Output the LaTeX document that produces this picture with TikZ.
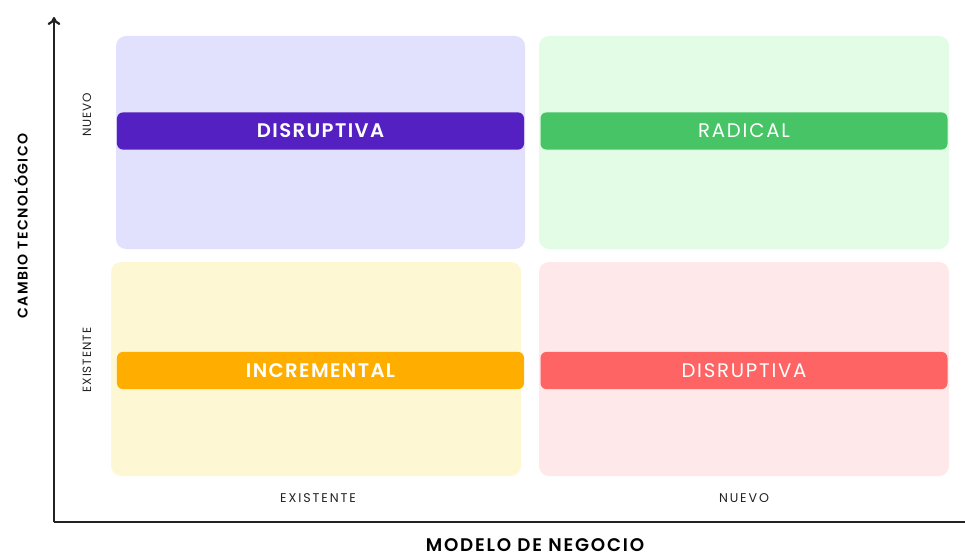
\documentclass[tikz,border=0pt]{standalone}
\usepackage{fontspec}
\usetikzlibrary{arrows.meta}
\setmainfont{Poppins}
\newfontfamily\barrafont[LetterSpace=9]{Poppins}
\newfontfamily\barrasemi[LetterSpace=7, UprightFont={* SemiBold}]{Poppins}
\newfontfamily\spaced[LetterSpace=15]{Poppins}
\newfontfamily\spacedy[LetterSpace=8]{Poppins}
\newfontfamily\spacedbold[LetterSpace=10, UprightFont={* SemiBold}]{Poppins}

\definecolor{lavanda}{HTML}{E1E1FD}
\definecolor{mentaclaro}{HTML}{E2FCE6}
\definecolor{cremaclaro}{HTML}{FDF7D4}
\definecolor{rosaclaro}{HTML}{FEE8EA}
\definecolor{morado}{HTML}{5420C2}
\definecolor{verde}{HTML}{46C466}
\definecolor{naranja}{HTML}{FFAE00}
\definecolor{rojo}{HTML}{FF6464}
\definecolor{eje}{HTML}{222222}

\tikzset{
  cuadrante/.style={rounded corners=2.5mm},
  barra/.style={rounded corners=1.5mm, minimum height=9.3mm, minimum width=101.75mm,
    inner sep=0pt, text=white, font=\barrafont\fontsize{14}{14}\selectfont},
  negrita/.style={font=\barrasemi\fontsize{14}{14}\selectfont},
  etiqueta/.style={text=eje, font=\spaced\fontsize{9}{9}\selectfont},
  etiquetay/.style={text=eje, rotate=90, font=\spacedy\fontsize{8.5}{8.5}\selectfont},
  titulo/.style={text=black, font=\spacedbold\fontsize{10}{10}\selectfont}
}

\begin{document}
\begin{tikzpicture}[x=0.25mm, y=-0.25mm]
  \useasboundingbox (0,0) rectangle (965,553);

  % Cuadrantes de fondo
  \fill[lavanda, cuadrante] (116,36) rectangle (525,249);
  \fill[mentaclaro, cuadrante] (539,36) rectangle (949,249);
  \fill[cremaclaro, cuadrante] (111,262) rectangle (521,476);
  \fill[rosaclaro, cuadrante] (539,262) rectangle (949,476);

  % Barras con el tipo de innovacion
  \node[barra, negrita, fill=morado] (disrup1) at (320.5,131) {DISRUPTIVA};
  \node[barra, fill=verde] (radical) at (744,131) {RADICAL};
  \node[barra, negrita, fill=naranja] (incremental) at (320.5,370.5) {INCREMENTAL};
  \node[barra, fill=rojo] (disrup2) at (744,370.5) {DISRUPTIVA};

  % Ejes
  \coordinate (origen) at (54,522);
  \coordinate (arriba) at (54,17);
  \coordinate (derecha) at (965,522);
  \draw[eje, line width=0.55mm, -{To[length=2mm, width=3.2mm]}] (origen) -- (arriba);
  \draw[eje, line width=0.55mm] (origen) -- (derecha);

  % Etiquetas de los ejes
  \node[etiquetay] (ynuevo) at (87,115) {NUEVO};
  \node[etiquetay] (yexist) at (87,360) {EXISTENTE};
  \node[etiqueta] (xexist) at (318,498) {EXISTENTE};
  \node[etiqueta] (xnuevo) at (744,498) {NUEVO};
  \node[titulo, rotate=90] (ytitulo) at (21,226) {CAMBIO TECNOLÓGICO};
  \node[titulo, inner sep=0pt, anchor=base, font=\spacedbold\fontsize{13}{13}\selectfont] (xtitulo) at (535,551) {MODELO DE NEGOCIO};
\end{tikzpicture}
\end{document}
